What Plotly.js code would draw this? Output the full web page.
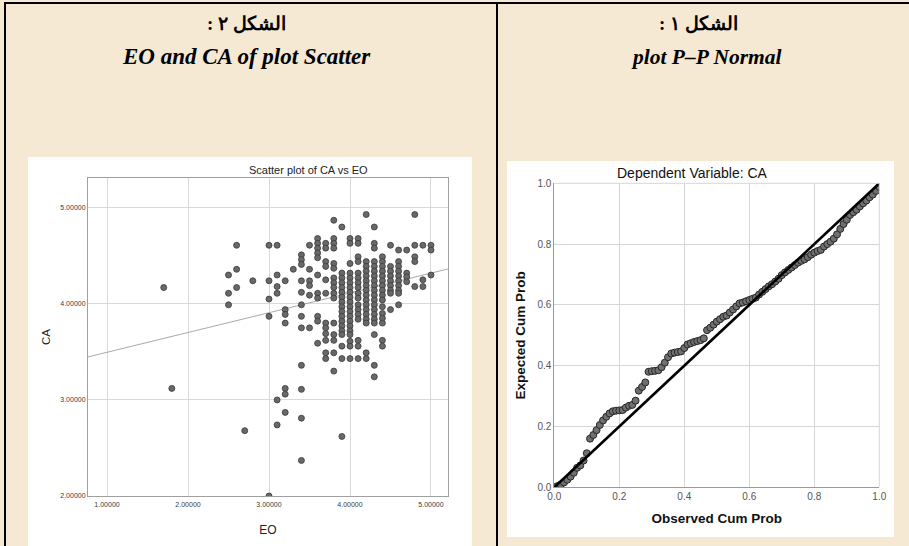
<!DOCTYPE html>
<html>
<head>
<meta charset="utf-8">
<script src="https://cdn.plot.ly/plotly-3.0.1.min.js"></script>
<style>
html,body{margin:0;padding:0;background:#f5e9d3;}
#chart{width:909px;height:546px;}
</style>
</head>
<body>
<div id="chart"></div>
<script>
// ---------- Scatter plot of CA vs EO (left) ----------
const eoLevels = [1.7, 1.8, 2.5, 2.6, 2.7, 2.8, 3.0, 3.1, 3.2, 3.3, 3.4, 3.5, 3.6, 3.7, 3.8, 3.9, 4.0, 4.1, 4.2, 4.3, 4.4, 4.5, 4.6, 4.7, 4.8, 4.9, 5.0];
const caAt17 = [4.17];
const caAt18 = [3.12];
const caAt25 = [4.30, 4.11, 3.99];
const caAt26 = [4.61, 4.36, 4.17];
const caAt27 = [2.68];
const caAt28 = [4.24];
const caAt30 = [4.61, 4.24, 4.05, 3.87, 2.00];
const caAt31 = [4.61, 4.30, 4.18, 4.11, 3.00, 2.74];
const caAt32 = [4.24, 3.94, 3.89, 3.80, 3.12, 3.06, 2.87];
const caAt33 = [4.36];
const caAt34 = [4.51, 4.46, 4.41, 4.24, 4.12, 3.99, 3.87, 3.75, 3.36, 3.11, 2.81, 2.37];
const caAt35 = [4.61, 4.36, 4.24, 4.19, 4.09, 3.75];
const caAt36 = [4.68, 4.63, 4.58, 4.53, 4.48, 4.30, 4.11, 4.06, 3.87, 3.82, 3.59];
const caAt37 = [4.63, 4.58, 4.44, 4.39, 4.25, 4.11, 3.80, 3.75, 3.69, 3.62, 3.49, 3.43];
const caAt38 = [4.87, 4.68, 4.63, 4.58, 4.42, 4.37, 4.27, 4.22, 4.17, 4.11, 4.06, 3.80, 3.68, 3.62, 3.49, 3.30];
const caAt39 = [4.80, 4.32, 4.27, 4.22, 4.17, 4.12, 4.07, 4.02, 3.97, 3.92, 3.87, 3.82, 3.77, 3.72, 3.68, 3.56, 3.43, 2.62];
const caAt40 = [4.68, 4.63, 4.42, 4.32, 4.27, 4.22, 4.17, 4.12, 4.07, 4.02, 3.97, 3.92, 3.87, 3.82, 3.77, 3.72, 3.68, 3.61, 3.56, 3.43];
const caAt41 = [4.68, 4.63, 4.49, 4.44, 4.32, 4.27, 4.22, 4.17, 4.11, 4.06, 3.99, 3.94, 3.89, 3.84, 3.62, 3.56, 3.43];
const caAt42 = [4.93, 4.44, 4.39, 4.34, 4.29, 4.24, 4.19, 4.14, 4.09, 4.04, 3.99, 3.94, 3.89, 3.84, 3.80, 3.49, 3.43];
const caAt43 = [4.80, 4.63, 4.58, 4.44, 4.39, 4.34, 4.29, 4.24, 4.19, 4.14, 4.09, 4.04, 3.99, 3.94, 3.89, 3.84, 3.80, 3.68, 3.36, 3.24];
const caAt44 = [4.49, 4.44, 4.39, 4.34, 4.29, 4.24, 4.19, 4.14, 4.09, 4.04, 3.97, 3.90, 3.85, 3.80, 3.62, 3.56];
const caAt45 = [4.61, 4.39, 4.34, 4.29, 4.24, 4.19, 4.14, 4.11, 3.94];
const caAt46 = [4.56, 4.44, 4.39, 4.34, 4.29, 4.24, 4.19, 4.14, 4.11, 3.99];
const caAt47 = [4.56, 4.32, 4.28, 4.23];
const caAt48 = [4.93, 4.61, 4.49, 4.44, 4.18];
const caAt49 = [4.61, 4.25, 4.18];
const caAt50 = [4.61, 4.56, 4.30];
const caByLevel = [caAt17, caAt18, caAt25, caAt26, caAt27, caAt28, caAt30, caAt31, caAt32, caAt33, caAt34, caAt35, caAt36, caAt37, caAt38, caAt39, caAt40, caAt41, caAt42, caAt43, caAt44, caAt45, caAt46, caAt47, caAt48, caAt49, caAt50];
const fitIntercept = 3.29;
const fitSlope = 0.206;
const eoTickVals = [1, 2, 3, 4, 5];
const eoTickText = ["1.00000", "2.00000", "3.00000", "4.00000", "5.00000"];
const caTickVals = [2, 3, 4, 5];
const caTickText = ["2.00000", "3.00000", "4.00000", "5.00000"];

// ---------- Normal P-P plot (right) ----------
const observedCum = [0.00,0.01,0.02,0.03,0.04,0.05,0.06,0.07,0.08,0.09,0.10,0.11,0.12,0.13,0.14,0.15,0.16,0.17,0.18,0.19,0.20,0.21,0.22,0.23,0.24,0.25,0.26,0.27,0.28,0.29,0.30,0.31,0.32,0.33,0.34,0.35,0.36,0.37,0.38,0.39,0.40,0.41,0.42,0.43,0.44,0.45,0.46,0.47,0.48,0.49,0.50,0.51,0.52,0.53,0.54,0.55,0.56,0.57,0.58,0.59,0.60,0.61,0.62,0.63,0.64,0.65,0.66,0.67,0.68,0.69,0.70,0.71,0.72,0.73,0.74,0.75,0.76,0.77,0.78,0.79,0.80,0.81,0.82,0.83,0.84,0.85,0.86,0.87,0.88,0.89,0.90,0.91,0.92,0.93,0.94,0.95,0.96,0.97,0.98,0.99,1.00];
const expectedCum = [0.000,0.004,0.009,0.016,0.025,0.035,0.048,0.064,0.072,0.088,0.112,0.160,0.172,0.188,0.205,0.220,0.232,0.243,0.250,0.252,0.253,0.254,0.262,0.268,0.271,0.285,0.318,0.330,0.345,0.380,0.382,0.383,0.385,0.395,0.410,0.428,0.440,0.443,0.445,0.447,0.458,0.470,0.474,0.478,0.481,0.484,0.490,0.517,0.525,0.535,0.545,0.553,0.561,0.565,0.575,0.585,0.595,0.605,0.608,0.612,0.616,0.620,0.624,0.634,0.643,0.652,0.661,0.668,0.677,0.686,0.698,0.707,0.715,0.723,0.731,0.739,0.745,0.750,0.757,0.765,0.772,0.777,0.781,0.792,0.800,0.808,0.818,0.832,0.850,0.866,0.880,0.896,0.905,0.913,0.924,0.934,0.943,0.954,0.963,0.975,0.988];
const diagonal = [0, 1];
const ppTickVals = [0, 0.2, 0.4, 0.6, 0.8, 1.0];
const ppTickText = ["0.0", "0.2", "0.4", "0.6", "0.8", "1.0"];

// ---------- geometry helpers (pixels -> paper) ----------
const W = 909, H = 546;
const px = v => v / W;
const py = v => 1 - v / H;

const eoFlat = [], caFlat = [];
eoLevels.forEach((e, i) => caByLevel[i].forEach(c => { eoFlat.push(e); caFlat.push(c); }));

const xRange1 = [0.765, 5.21];
const yRange1 = [2.0, 5.31];

const traces = [
  {
    x: xRange1, y: xRange1.map(v => fitIntercept + fitSlope * v),
    xaxis: 'x', yaxis: 'y', mode: 'lines', type: 'scatter',
    line: {color: '#a8a8a8', width: 1}, hoverinfo: 'skip', showlegend: false
  },
  {
    x: eoFlat, y: caFlat, xaxis: 'x', yaxis: 'y', mode: 'markers', type: 'scatter',
    marker: {size: 6, color: '#686868', line: {color: '#3a3a3a', width: 0.8}},
    showlegend: false
  },
  {
    x: observedCum, y: expectedCum, xaxis: 'x2', yaxis: 'y2', mode: 'markers', type: 'scatter',
    marker: {size: 7, color: '#707070', line: {color: '#262626', width: 1}},
    showlegend: false
  },
  {
    x: diagonal, y: diagonal, xaxis: 'x2', yaxis: 'y2', mode: 'lines', type: 'scatter',
    line: {color: '#000000', width: 2.6}, showlegend: false
  }
];

const sans = 'Liberation Sans, Arial, sans-serif';
const serif = 'Liberation Serif, Times New Roman, serif';
const RLM = '\u200F';

const layout = {
  width: W, height: H,
  margin: {l: 0, r: 0, t: 0, b: 0, pad: 0},
  paper_bgcolor: '#f5e9d3',
  plot_bgcolor: '#ffffff',
  showlegend: false,
  xaxis: {
    domain: [px(88), px(448)], range: xRange1, anchor: 'y',
    tickvals: eoTickVals, ticktext: eoTickText, ticks: '', ticklabelstandoff: 2,
    tickfont: {family: sans, size: 7, color: '#3a3a3a'},
    showgrid: true, gridcolor: '#d9d9d9', gridwidth: 1, zeroline: false,
    showline: true, linecolor: '#a0a0a0', linewidth: 1, mirror: true,
    title: {text: 'EO', font: {family: sans, size: 12, color: '#222222'}, standoff: 18}
  },
  yaxis: {
    domain: [py(496), py(178)], range: yRange1, anchor: 'x',
    tickvals: caTickVals, ticktext: caTickText, ticks: '',
    tickfont: {family: sans, size: 7, color: '#3a3a3a'},
    showgrid: true, gridcolor: '#d9d9d9', gridwidth: 1, zeroline: false,
    showline: true, linecolor: '#a0a0a0', linewidth: 1, mirror: true,
    title: {text: 'CA', font: {family: sans, size: 11.5, color: '#222222'}, standoff: 7}
  },
  xaxis2: {
    domain: [px(554.3), px(879.3)], range: [0, 1], anchor: 'y2',
    tickvals: ppTickVals, ticktext: ppTickText, ticks: '',
    tickfont: {family: sans, size: 10, color: '#555555'},
    showgrid: true, gridcolor: '#d6d6d6', gridwidth: 1, zeroline: false,
    showline: true, linecolor: '#9a9a9a', linewidth: 1,
    title: {text: '<b>Observed Cum Prob</b>', font: {family: sans, size: 13.5, color: '#111111'}, standoff: 12}
  },
  yaxis2: {
    domain: [py(487.3), py(183.3)], range: [0, 1], anchor: 'x2',
    tickvals: ppTickVals, ticktext: ppTickText, ticks: '',
    tickfont: {family: sans, size: 10, color: '#555555'},
    showgrid: true, gridcolor: '#d6d6d6', gridwidth: 1, zeroline: false,
    showline: true, linecolor: '#9a9a9a', linewidth: 1,
    title: {text: '<b>Expected Cum Prob</b>', font: {family: sans, size: 13.5, color: '#111111'}, standoff: 8}
  },
  shapes: [
    {type: 'rect', xref: 'paper', yref: 'paper', x0: px(28), x1: px(472), y0: py(546), y1: py(157), fillcolor: '#ffffff', line: {width: 0}, layer: 'below'},
    {type: 'rect', xref: 'paper', yref: 'paper', x0: px(507), x1: px(894), y0: py(537), y1: py(161), fillcolor: '#ffffff', line: {width: 0}, layer: 'below'},
    {type: 'line', xref: 'x2 domain', yref: 'y2 domain', x0: 0, x1: 1, y0: 1, y1: 1, line: {color: '#d6d6d6', width: 1}},
    {type: 'line', xref: 'x2 domain', yref: 'y2 domain', x0: 1, x1: 1, y0: 0, y1: 1, line: {color: '#d6d6d6', width: 1}},
    {type: 'line', xref: 'paper', yref: 'paper', x0: px(4), x1: px(909), y0: py(3), y1: py(3), line: {color: '#000000', width: 2}},
    {type: 'line', xref: 'paper', yref: 'paper', x0: px(5), x1: px(5), y0: py(2), y1: py(546), line: {color: '#000000', width: 2}},
    {type: 'line', xref: 'paper', yref: 'paper', x0: px(497), x1: px(497), y0: py(2), y1: py(546), line: {color: '#000000', width: 2}}
  ],
  annotations: [
    {xref: 'paper', yref: 'paper', x: px(247), y: py(24), text: '<b>' + RLM + 'الشكل ٢ :' + RLM + '</b>', showarrow: false, xanchor: 'center', yanchor: 'middle', font: {family: serif, size: 19, color: '#000000'}},
    {xref: 'paper', yref: 'paper', x: px(247), y: py(57), text: '<b><i>EO and CA of plot Scatter</i></b>', showarrow: false, xanchor: 'center', yanchor: 'middle', font: {family: serif, size: 23, color: '#000000'}},
    {xref: 'paper', yref: 'paper', x: px(698), y: py(24), text: '<b>' + RLM + 'الشكل ١ :' + RLM + '</b>', showarrow: false, xanchor: 'center', yanchor: 'middle', font: {family: serif, size: 19, color: '#000000'}},
    {xref: 'paper', yref: 'paper', x: px(706), y: py(57), text: '<b><i>plot P–P Normal</i></b>', showarrow: false, xanchor: 'center', yanchor: 'middle', font: {family: serif, size: 21.5, color: '#000000'}},
    {xref: 'paper', yref: 'paper', x: px(308), y: py(170), text: 'Scatter plot of CA vs EO', showarrow: false, xanchor: 'center', yanchor: 'middle', font: {family: sans, size: 11, color: '#222222'}},
    {xref: 'paper', yref: 'paper', x: px(692), y: py(173), text: 'Dependent Variable: CA', showarrow: false, xanchor: 'center', yanchor: 'middle', font: {family: sans, size: 14, color: '#111111'}}
  ]
};

Plotly.newPlot('chart', traces, layout, {displayModeBar: false, staticPlot: true});
</script>
</body>
</html>
